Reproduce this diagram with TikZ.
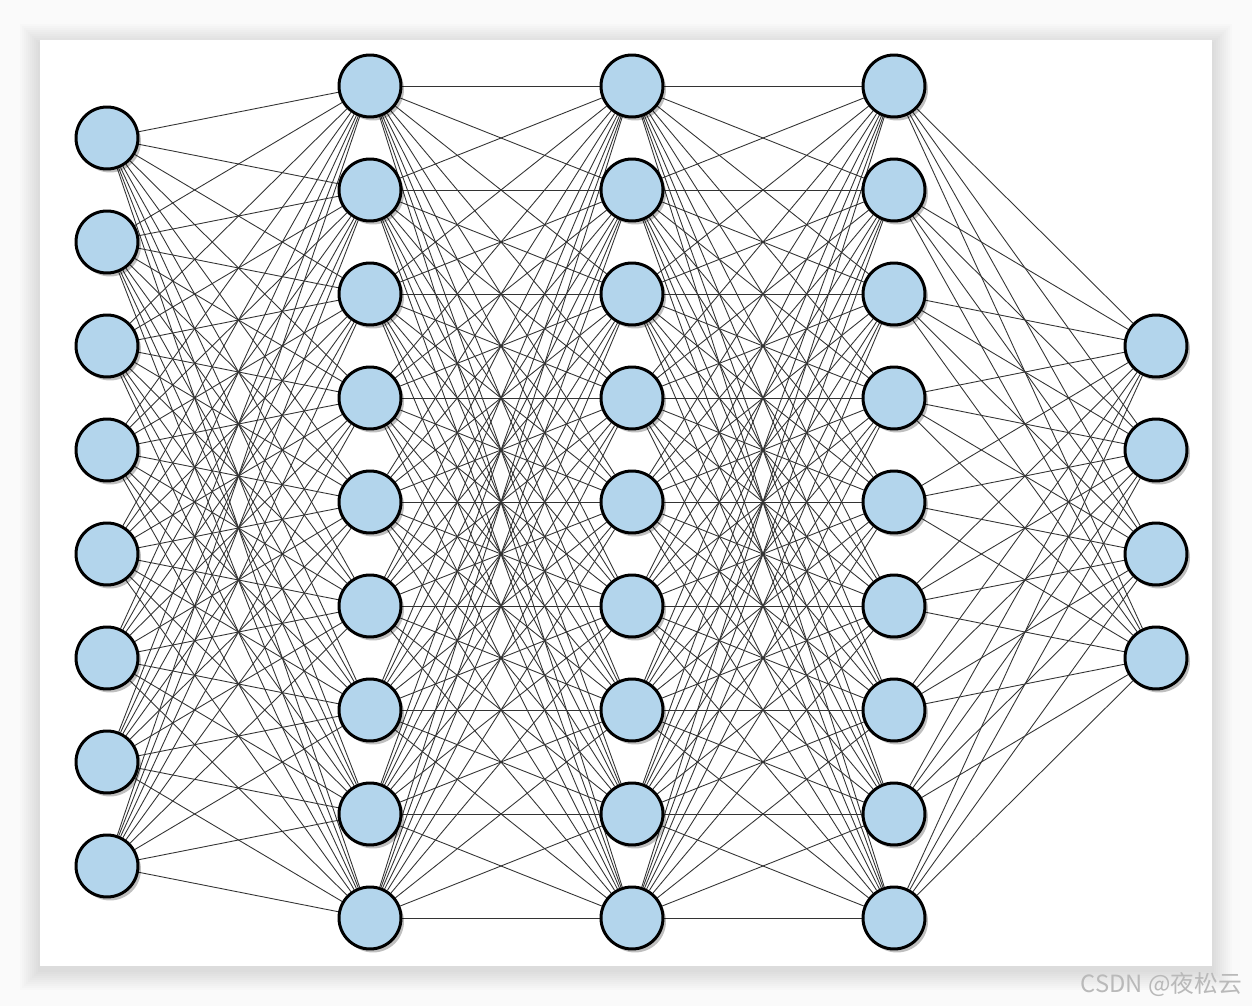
\documentclass[tikz,border=0pt]{standalone}
\usepackage{fontspec}
\newfontfamily\cjk{Noto Sans CJK SC}
\usepackage{tikz}
\usetikzlibrary{positioning, backgrounds, shadows}
\pgfdeclarelayer{back}
\pgfdeclarelayer{edges}
\pgfsetlayers{back,edges,main}
\definecolor{neuronblue}{HTML}{B3D5EC}
\tikzset{
	neuron/.style={circle, draw=black, line width=1.7pt, fill=neuronblue,
		minimum size=1.24cm, inner sep=0pt,
		drop shadow={shadow xshift=0.06cm, shadow yshift=-0.07cm, opacity=0.25, fill=black}}
}
\tikzset{
	synapse/.style={line width=0.5pt, draw=black!80}
}
\tikzset{
	watermark/.style={font=\cjk\fontsize{13.5}{15}\selectfont, text=gray!55}
}

\begin{document}
\begin{tikzpicture}[x=0.02cm, y=-0.02cm]
      \useasboundingbox (0,0) rectangle (1252,1006);
      \begin{pgfonlayer}{back}
        \fill[gray!4] (0,0) rectangle (1252,1006);
        \foreach \s in {20,18,...,2}
          \fill[black, opacity=0.012] (40-\s,40-\s+4) rectangle (1212+\s,966+\s+4);
        \fill[white] (40,40) rectangle (1212,966);
      \end{pgfonlayer}
      % layers
      \foreach \i in {1,...,8}
        \node[neuron] (in-\i) at (107,34+104*\i) {};
      \foreach \l/\x in {a/370, b/632, c/894}
        \foreach \i in {1,...,9}
          \node[neuron] (\l-\i) at (\x,-18+104*\i) {};
      \foreach \i in {1,...,4}
        \node[neuron] (out-\i) at (1156,242+104*\i) {};
      % connections
      \begin{pgfonlayer}{edges}
        \foreach \i in {1,...,8}
          \foreach \j in {1,...,9}
            \draw[synapse] (in-\i) -- (a-\j);
        \foreach \p/\q in {a/b, b/c}
          \foreach \i in {1,...,9}
            \foreach \j in {1,...,9}
              \draw[synapse] (\p-\i) -- (\q-\j);
        \foreach \i in {1,...,9}
          \foreach \j in {1,...,4}
            \draw[synapse] (c-\i) -- (out-\j);
      \end{pgfonlayer}
      \node[watermark, anchor=east] (mark) at (1248,985) {CSDN @夜松云};
    \end{tikzpicture}
\end{document}
